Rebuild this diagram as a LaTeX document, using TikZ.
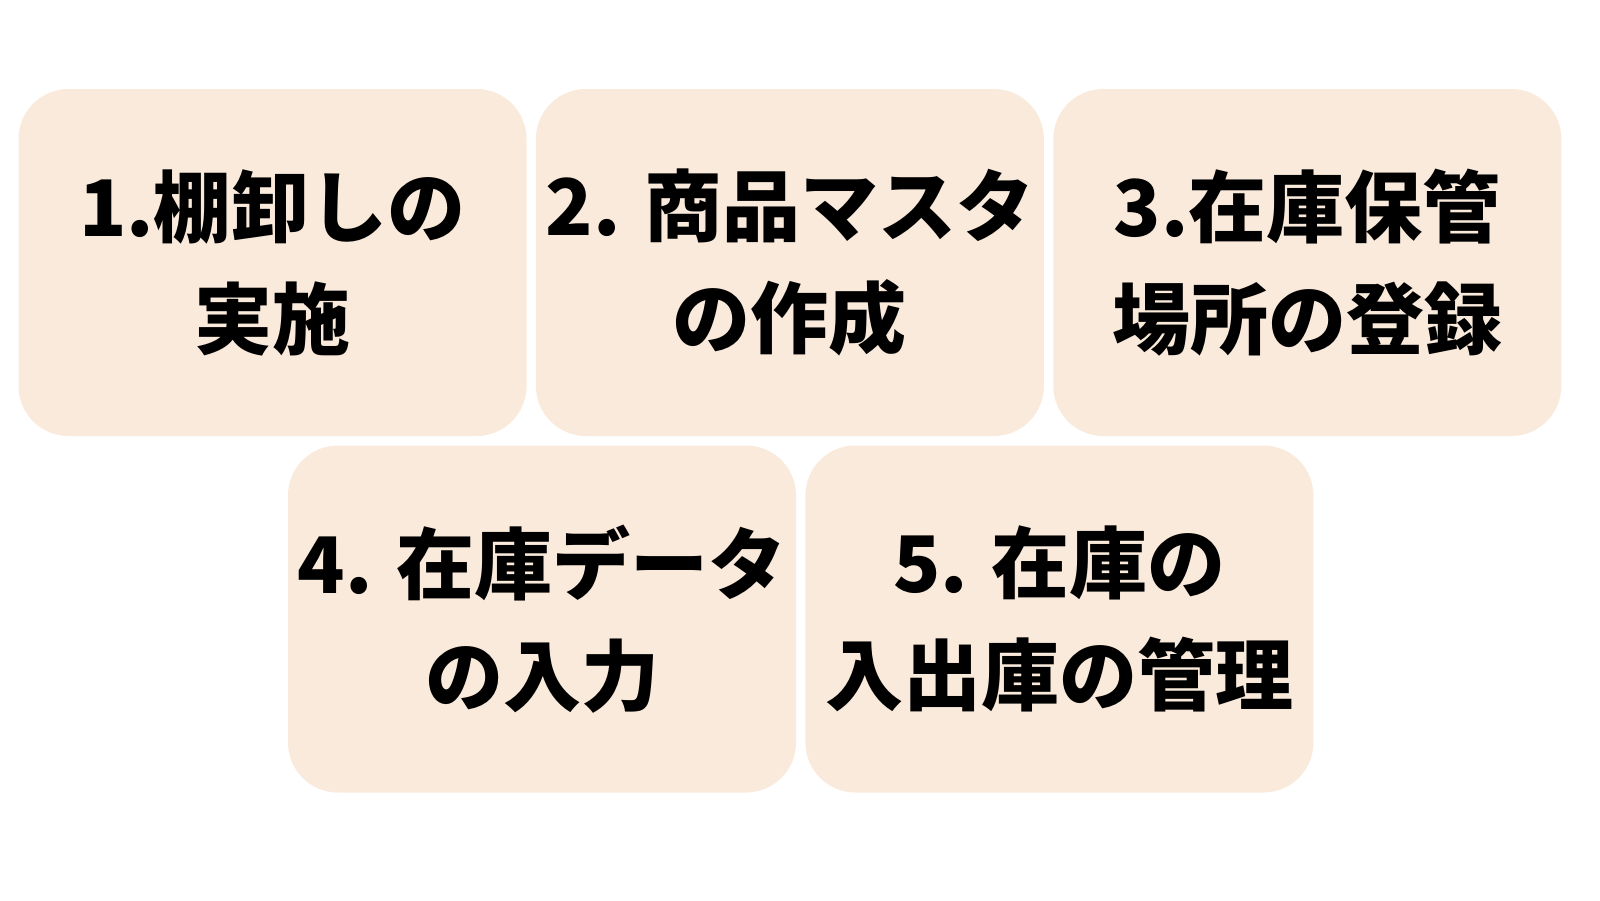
\documentclass[tikz,border=0pt]{standalone}
\usepackage{fontspec}
\setmainfont{Noto Sans CJK JP}[BoldFont=* Black]
\usepackage{tikz}
\usetikzlibrary{positioning}
\definecolor{boxbeige}{HTML}{F9EADB}

\begin{document}
\begin{tikzpicture}[
            x = 1pt, y = -1pt, % one unit per pixel, y downwards
            node distance = 9pt, % gap between boxes
            inner sep = 0pt
        ]

        \tikzstyle{stepbox}=[
            fill = boxbeige,
            rounded corners = 50pt,
            minimum width = 508pt,
            minimum height = 347pt,
            align = center,
            font = \bfseries\fontsize{78}{112}\selectfont
        ]

        \fill[white] (0,0) rectangle (1600,900);
        \useasboundingbox (0,0) rectangle (1600,900);

        \node[stepbox] (s1) at (272.5,262.5) {1.棚卸しの\\実施};
        \node[stepbox] (s2) [right=of s1] {2. 商品マスタ\\の作成};
        \node[stepbox] (s3) [right=of s2] {3.在庫保管\\場所の登録};
        \node[stepbox] (s4) at (542,619) {4. 在庫データ\\の入力};
        \node[stepbox] (s5) [right=of s4] {5. 在庫の\\入出庫の管理};

  \end{tikzpicture}
\end{document}
